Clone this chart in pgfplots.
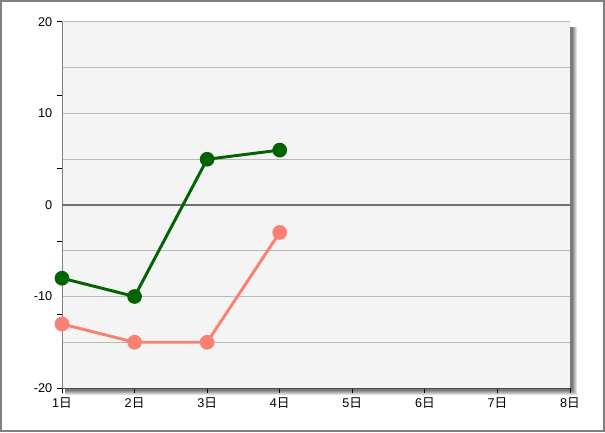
\documentclass[border=0pt]{standalone}
\usepackage{fontspec}
\setmainfont{Liberation Sans}
\newfontfamily\cjk{Noto Sans CJK SC}
\usepackage{pgfplots}
\pgfplotsset{compat=1.18}
\definecolor{bgplot}{RGB}{244,244,244}
\definecolor{gridc}{RGB}{185,185,185}
\definecolor{zeroc}{RGB}{112,112,112}
\definecolor{borderc}{RGB}{128,128,128}
\definecolor{greenc}{RGB}{0,100,0}
\definecolor{salmonc}{RGB}{250,128,114}
\begin{document}
\begin{tikzpicture}
\useasboundingbox (-46.5pt,-33pt) rectangle (407.25pt,291pt);
\fill[white] (-46.5pt,-33pt) rectangle (407.25pt,291pt);
\draw[borderc, line width=1.5pt] (-45.75pt,-32.25pt) rectangle (406.5pt,290.25pt);
% shadow
\fill[black!12] (2.25pt,-5.25pt) rectangle (386.25pt,270.75pt);
\fill[black!22] (2.25pt,-4.5pt) rectangle (385.5pt,270.75pt);
\fill[black!32] (2.25pt,-3.75pt) rectangle (384.75pt,270.75pt);
\fill[black!42] (2.25pt,-3pt) rectangle (384pt,270.75pt);
\fill[black!52] (2.25pt,-2.25pt) rectangle (383.25pt,270.75pt);
\begin{axis}[
  at={(0,0)}, anchor=south west,
  scale only axis, width=381pt, height=274.5pt,
  xmin=1, xmax=8, ymin=-20, ymax=20,
  axis x line=bottom, axis y line=left,
  axis line style={borderc, line width=0.75pt, -},
  x axis line style={black!70},
  axis background/.style={fill=bgplot},
  xtick={1,...,8},
  xticklabels={1{\cjk 日},2{\cjk 日},3{\cjk 日},4{\cjk 日},5{\cjk 日},6{\cjk 日},7{\cjk 日},8{\cjk 日}},
  ytick={-20,-10,0,10,20},
  minor ytick={-15,-5,5,15},
  ymajorgrids, yminorgrids,
  major grid style={gridc, line width=0.75pt},
  minor grid style={gridc, line width=0.75pt},
  tick align=outside,
  major tick length=3.75pt,
  minor tick length=0pt,
  x tick style={black, line width=0.75pt},
  y tick style={draw=none},
  extra y ticks={-20,-12,-4,4,12,20},
  extra y tick labels={},
  extra y tick style={grid=none, y tick style={draw=black, line width=0.75pt}},
  tick label style={font=\fontsize{9.5}{10}\selectfont},
  /pgf/number format/assume math mode=true,
  clip=false,
]
\addplot[zeroc, line width=2.2pt, forget plot] coordinates {(1,0) (8,0)};
\addplot[greenc, line width=2.2pt, mark=*, mark size=4.4pt, mark options={fill=greenc, draw=none}]
  coordinates {(1,-8) (2,-10) (3,5) (4,6)};
\addplot[salmonc, line width=2.2pt, mark=*, mark size=4.4pt, mark options={fill=salmonc, draw=none}]
  coordinates {(1,-13) (2,-15) (3,-15) (4,-3)};
\end{axis}
\end{tikzpicture}
\end{document}
